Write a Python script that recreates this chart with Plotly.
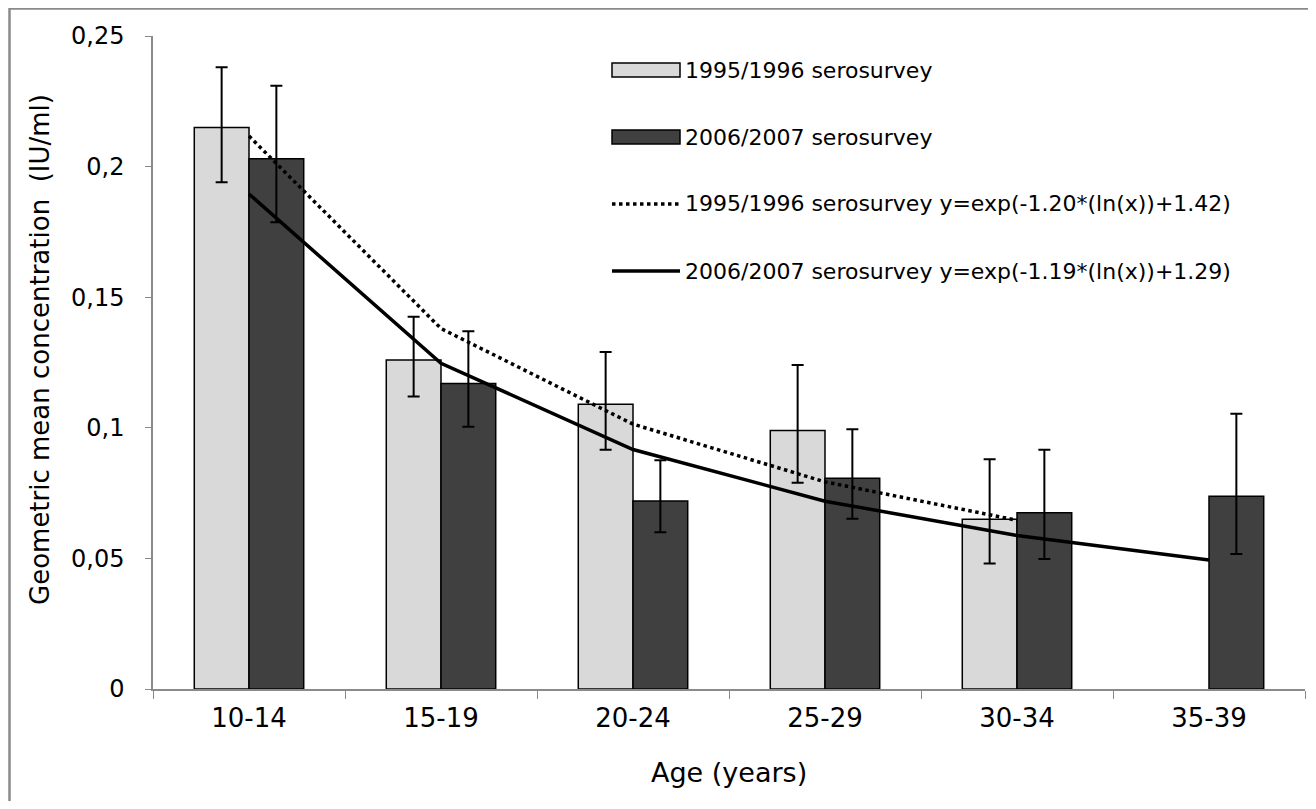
import plotly.graph_objects as go

# ---- data ----
age_groups = ["10-14", "15-19", "20-24", "25-29", "30-34", "35-39"]

gmc_1995 = [0.215, 0.126, 0.109, 0.099, 0.065, None]
err_up_1995 = [0.238, 0.1425, 0.129, 0.124, 0.088, None]
err_lo_1995 = [0.194, 0.112, 0.0916, 0.079, 0.048, None]

gmc_2006 = [0.203, 0.117, 0.072, 0.0807, 0.0675, 0.0738]
err_up_2006 = [0.231, 0.137, 0.0876, 0.0994, 0.0916, 0.1054]
err_lo_2006 = [0.1787, 0.1004, 0.060, 0.0652, 0.0498, 0.0517]

fit_groups_1995 = ["10-14", "15-19", "20-24", "25-29", "30-34"]
fit_1995 = [0.2117, 0.138, 0.1014, 0.0793, 0.0646]
fit_groups_2006 = ["10-14", "15-19", "20-24", "25-29", "30-34", "35-39"]
fit_2006 = [0.1895, 0.1247, 0.0917, 0.0719, 0.0588, 0.0494]

y_tick_vals = [0, 0.05, 0.1, 0.15, 0.2, 0.25]
y_tick_text = ["0", "0,05", "0,1", "0,15", "0,2", "0,25"]

legend_labels = [
    "1995/1996 serosurvey",
    "2006/2007 serosurvey",
    "1995/1996 serosurvey y=exp(-1.20*(ln(x))+1.42)",
    "2006/2007 serosurvey y=exp(-1.19*(ln(x))+1.29)",
]

LIGHT = "#d9d9d9"
DARK = "#404040"
AXIS = "#8a8a8a"
FONT = "DejaVu Sans"


def err(vals, up, lo):
    plus = [None if v is None else u - v for v, u in zip(vals, up)]
    minus = [None if v is None else v - l for v, l in zip(vals, lo)]
    return plus, minus


p95, m95 = err(gmc_1995, err_up_1995, err_lo_1995)
p06, m06 = err(gmc_2006, err_up_2006, err_lo_2006)

fig = go.Figure()
fig.add_trace(go.Bar(
    x=age_groups, y=gmc_1995, name=legend_labels[0],
    marker=dict(color=LIGHT, line=dict(color="black", width=1.5)),
    error_y=dict(type="data", symmetric=False, array=p95, arrayminus=m95,
                 color="black", thickness=2, width=6),
    showlegend=False,
))
fig.add_trace(go.Bar(
    x=age_groups, y=gmc_2006, name=legend_labels[1],
    marker=dict(color=DARK, line=dict(color="black", width=1.5)),
    error_y=dict(type="data", symmetric=False, array=p06, arrayminus=m06,
                 color="black", thickness=2, width=6),
    showlegend=False,
))
fig.add_trace(go.Scatter(
    x=fit_groups_1995, y=fit_1995, mode="lines", name=legend_labels[2],
    line=dict(color="black", width=3.5, dash="dot"), showlegend=False,
))
fig.add_trace(go.Scatter(
    x=fit_groups_2006, y=fit_2006, mode="lines", name=legend_labels[3],
    line=dict(color="black", width=3.5), showlegend=False,
))

# page has an 8px body margin; figure sized so it fits in the window
OFF = 8
W, H = 1300, 793
L, R, T, B = 145, 3, 28, 112
pw, ph = W - L - R, H - T - B


def px(page_x):
    return (page_x - OFF - L) / pw


def py(page_y):
    return (H - B - (page_y - OFF)) / ph


shapes = []
annotations = []

# outer border (left and top visible, right/bottom beyond the view)
shapes.append(dict(type="rect", xref="paper", yref="paper",
                   x0=px(9.5), x1=px(OFF + W + 20), y0=py(OFF + H + 20), y1=py(8.5),
                   line=dict(color=AXIS, width=2.5), fillcolor="rgba(0,0,0,0)",
                   layer="below"))

# manual legend
rows_y = [70, 137, 204, 271]
sx0, sx1 = 612, 680
for i, (lab, yy) in enumerate(zip(legend_labels, rows_y)):
    if i < 2:
        shapes.append(dict(type="rect", xref="paper", yref="paper",
                           x0=px(sx0), x1=px(sx1), y0=py(yy + 7), y1=py(yy - 7),
                           fillcolor=LIGHT if i == 0 else DARK,
                           line=dict(color="black", width=1.5)))
    else:
        shapes.append(dict(type="line", xref="paper", yref="paper",
                           x0=px(sx0), x1=px(sx1), y0=py(yy), y1=py(yy),
                           line=dict(color="black", width=3.5,
                                     dash="dot" if i == 2 else "solid")))
    annotations.append(dict(text=lab, xref="paper", yref="paper",
                            x=px(683), y=py(yy), xanchor="left", yanchor="middle",
                            showarrow=False, font=dict(family=FONT, size=22, color="black")))

# axis titles
annotations.append(dict(text="Age (years)", xref="paper", yref="paper",
                        x=px(729), y=py(772), xanchor="center", yanchor="middle",
                        showarrow=False, font=dict(family=FONT, size=27, color="black")))
annotations.append(dict(text="Geometric mean concentration  (IU/ml)", xref="paper", yref="paper",
                        x=px(40), y=py(350), xanchor="center", yanchor="middle", textangle=-90,
                        showarrow=False, font=dict(family=FONT, size=26, color="black")))

fig.update_layout(
    width=W, height=H,
    margin=dict(l=L, r=R, t=T, b=B),
    paper_bgcolor="white", plot_bgcolor="white",
    barmode="group", bargap=0.43, bargroupgap=0,
    font=dict(family=FONT, size=24, color="black"),
    shapes=shapes, annotations=annotations,
    showlegend=False,
)
fig.update_xaxes(
    type="category", categoryorder="array", categoryarray=age_groups,
    showline=True, linecolor=AXIS, linewidth=1.5,
    ticks="outside", ticklen=8, tickcolor=AXIS, tickson="boundaries",
    showgrid=False, zeroline=False, ticklabelstandoff=5,
    tickfont=dict(family=FONT, size=26, color="black"),
)
fig.update_yaxes(
    range=[0, 0.25], tickvals=y_tick_vals, ticktext=y_tick_text,
    showline=True, linecolor=AXIS, linewidth=1.5,
    ticks="outside", ticklen=6, tickcolor=AXIS,
    showgrid=False, zeroline=False, ticklabelstandoff=16,
    tickfont=dict(family=FONT, size=24, color="black"),
)

fig.write_html("out.html")
